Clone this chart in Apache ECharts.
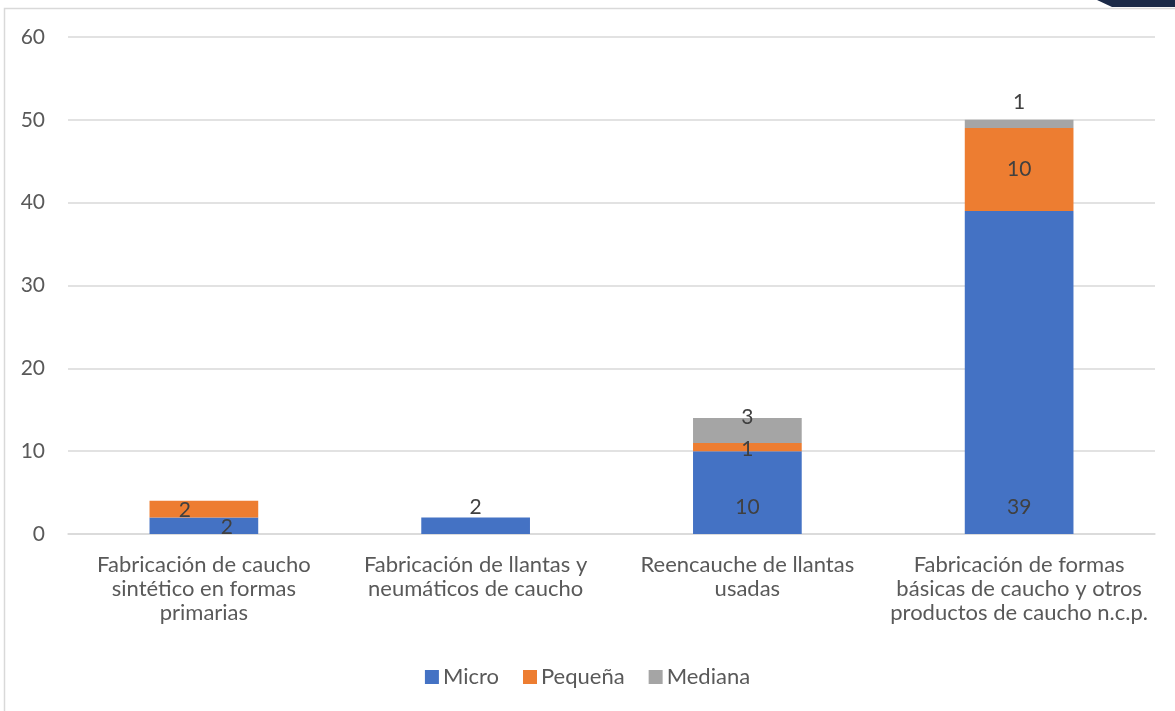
<!DOCTYPE html>
<html>
<head>
<meta charset="utf-8">
<script src="https://cdn.jsdelivr.net/npm/echarts@6/dist/echarts.min.js"></script>
<style>
html,body{margin:0;padding:0;background:#fff;}
#chart{width:1175px;height:711px;}
</style>
</head>
<body>
<div id="chart"></div>
<script>
const categories = [
  'Fabricación de caucho\nsintético en formas\nprimarias',
  'Fabricación de llantas y\nneumáticos de caucho',
  'Reencauche de llantas\nusadas',
  'Fabricación de formas\nbásicas de caucho y otros\nproductos de caucho n.c.p.'
];
const micro = [2, 2, 10, 39];
const pequena = [2, 0, 1, 10];
const mediana = [0, 0, 3, 1];
const yTicks = [0, 10, 20, 30, 40, 50, 60];

const FONT = 'Lato';
const labelColor = '#404040';

// per-item label styling (mimics manual label placement in the source)
const microLabelStyle = [
  {position: 'inside', offset: [23, 2]},
  {position: 'top', distance: 0},
  {position: 'insideBottom', distance: 16},
  {position: 'insideBottom', distance: 16}
];
const pequenaLabelStyle = [
  {position: 'inside', offset: [-19, 1]},
  {position: 'inside'},
  {position: 'inside', offset: [0, 2]},
  {position: 'inside'}
];
const medianaLabelStyle = [
  {position: 'inside'},
  {position: 'inside'},
  {position: 'top', distance: -10},
  {position: 'top', distance: 7}
];

function build(values, styles) {
  return values.map((v, i) => ({
    value: v,
    label: Object.assign({show: v !== 0}, styles[i])
  }));
}

const chart = echarts.init(document.getElementById('chart'), null, {renderer: 'canvas'});
const baseLabel = {color: labelColor, fontFamily: FONT, fontSize: 21, formatter: p => p.value};

chart.setOption({
  animation: false,
  backgroundColor: '#fff',
  textStyle: {fontFamily: FONT},
  graphic: [
    {type: 'rect', shape: {x: 4.5, y: 8.5, width: 1200, height: 800}, style: {fill: 'none', stroke: '#D9D9D9', lineWidth: 1.5}, silent: true},
    {type: 'polygon', shape: {points: [[1097, 0], [1175, 0], [1175, 7], [1112, 7]]}, style: {fill: '#1B2A48'}, silent: true}
  ],
  grid: {left: 68, right: 20, top: 37, bottom: 177, containLabel: false},
  legend: {
    bottom: 18,
    left: 'center',
    itemWidth: 14,
    itemHeight: 14,
    itemGap: 24,
    icon: 'rect',
    textStyle: {color: '#595959', fontFamily: FONT, fontSize: 22, padding: [0, 0, 0, -1]},
    data: ['Micro', 'Pequeña', 'Mediana']
  },
  xAxis: {
    type: 'category',
    data: categories,
    axisLine: {show: true, lineStyle: {color: '#D9D9D9', width: 1.5}},
    axisTick: {show: false},
    axisLabel: {color: '#595959', fontFamily: FONT, fontSize: 22, lineHeight: 24, margin: 19, interval: 0}
  },
  yAxis: {
    type: 'value',
    min: yTicks[0],
    max: yTicks[yTicks.length - 1],
    interval: 10,
    axisLine: {show: false},
    axisTick: {show: false},
    axisLabel: {color: '#595959', fontFamily: FONT, fontSize: 21, margin: 23},
    splitLine: {lineStyle: {color: '#D9D9D9', width: 1.5}}
  },
  series: [
    {name: 'Micro', type: 'bar', stack: 't', barWidth: '40%', itemStyle: {color: '#4472C4'}, label: baseLabel, data: build(micro, microLabelStyle)},
    {name: 'Pequeña', type: 'bar', stack: 't', itemStyle: {color: '#ED7D31'}, label: baseLabel, data: build(pequena, pequenaLabelStyle)},
    {name: 'Mediana', type: 'bar', stack: 't', itemStyle: {color: '#A5A5A5'}, label: baseLabel, data: build(mediana, medianaLabelStyle)}
  ]
});
</script>
</body>
</html>
